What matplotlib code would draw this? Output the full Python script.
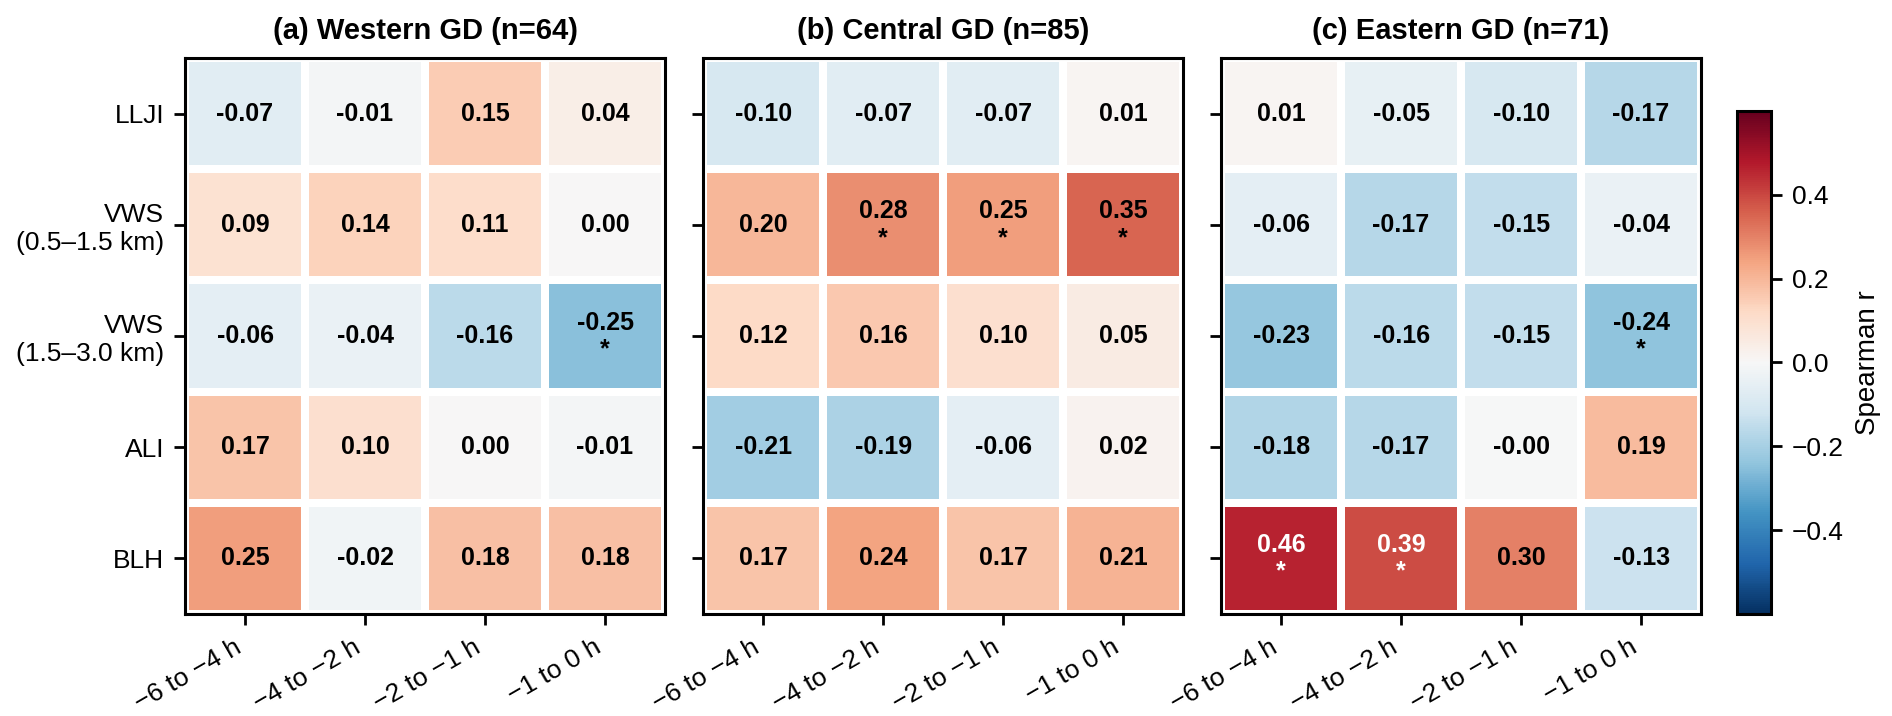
import matplotlib.pyplot as plt
import numpy as np

plt.rcParams['font.family'] = ['Liberation Sans', 'DejaVu Sans']

variables = ['LLJI', 'VWS\n(0.5–1.5 km)', 'VWS\n(1.5–3.0 km)', 'ALI', 'BLH']
windows = ['−6 to −4 h', '−4 to −2 h', '−2 to −1 h', '−1 to 0 h']
titles = ['(a) Western GD (n=64)', '(b) Central GD (n=85)', '(c) Eastern GD (n=71)']

r_western = [[-0.07, -0.01, 0.15, 0.04],
             [0.09, 0.14, 0.11, 0.00],
             [-0.06, -0.04, -0.16, -0.25],
             [0.17, 0.10, 0.00, -0.01],
             [0.25, -0.02, 0.18, 0.18]]
r_central = [[-0.10, -0.07, -0.07, 0.01],
             [0.20, 0.28, 0.25, 0.35],
             [0.12, 0.16, 0.10, 0.05],
             [-0.21, -0.19, -0.06, 0.02],
             [0.17, 0.24, 0.17, 0.21]]
r_eastern = [[0.01, -0.05, -0.10, -0.17],
             [-0.06, -0.17, -0.15, -0.04],
             [-0.23, -0.16, -0.15, -0.24],
             [-0.18, -0.17, -0.001, 0.19],
             [0.46, 0.39, 0.30, -0.13]]

# significant cells (row, col)
sig_western = [(2, 3)]
sig_central = [(1, 1), (1, 2), (1, 3)]
sig_eastern = [(2, 3), (4, 0), (4, 1)]

vmax = 0.6

fig = plt.figure(figsize=(9.46, 3.58), dpi=200)
lefts = [0.0978, 0.3716, 0.6454]
panels = [(r_western, sig_western), (r_central, sig_central), (r_eastern, sig_eastern)]

for i, (vals, sig) in enumerate(panels):
    ax = fig.add_axes([lefts[i], 0.1425, 0.2537, 0.7765])
    data = np.array(vals)
    mesh = ax.pcolormesh(data, cmap='RdBu_r', vmin=-vmax, vmax=vmax,
                         edgecolors='white', linewidth=2.2)
    ax.set_ylim(len(variables), 0)
    ax.set_xlim(0, len(windows))
    for r in range(data.shape[0]):
        for c in range(data.shape[1]):
            v = data[r, c]
            col = 'white' if abs(v) > 0.37 else 'black'
            txt = f'{v:.2f}'
            if (r, c) in sig:
                ax.text(c + 0.5, r + 0.38, txt, ha='center', va='center',
                        fontsize=9, fontweight='bold', color=col)
                ax.text(c + 0.5, r + 0.62, '*', ha='center', va='center',
                        fontsize=9, fontweight='bold', color=col)
            else:
                ax.text(c + 0.5, r + 0.5, txt, ha='center', va='center',
                        fontsize=9, fontweight='bold', color=col)
    ax.set_xticks(np.arange(len(windows)) + 0.5)
    ax.set_xticklabels(windows, rotation=30, ha='right', fontsize=9.5)
    ax.set_yticks(np.arange(len(variables)) + 0.5)
    if i == 0:
        ax.set_yticklabels(variables, fontsize=9.5)
    else:
        ax.set_yticklabels([])
    ax.tick_params(length=4, width=1)
    for s in ax.spines.values():
        s.set_linewidth(1.1)
    ax.set_title(titles[i], fontsize=10.5, fontweight='bold', pad=7)

cax = fig.add_axes([0.9181, 0.1425, 0.018, 0.7025])
cb = fig.colorbar(mesh, cax=cax)
cb.set_ticks([-0.4, -0.2, 0.0, 0.2, 0.4])
cb.ax.tick_params(labelsize=9.5, length=4, width=1)
cb.outline.set_linewidth(1.1)
cb.set_label('Spearman r', fontsize=10)

fig.savefig('out.png', dpi=200)
